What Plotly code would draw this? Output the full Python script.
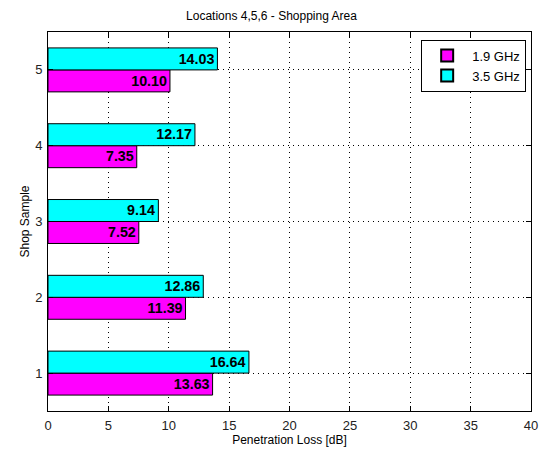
import plotly.graph_objects as go

samples = [1, 2, 3, 4, 5]
loss_19 = [13.63, 11.39, 7.52, 7.35, 10.10]
loss_35 = [16.64, 12.86, 9.14, 12.17, 14.03]
x_ticks = [0, 5, 10, 15, 20, 25, 30, 35, 40]

FONT = "Arial, Liberation Sans, Helvetica"

fig = go.Figure()
fig.add_trace(go.Bar(
    y=samples, x=loss_19, orientation="h", name="1.9 GHz",
    marker=dict(color="#ff00ff", line=dict(color="black", width=1)),
    text=[f"{v:.2f}" for v in loss_19], textposition="inside",
    insidetextanchor="end", textangle=0,
    textfont=dict(family=FONT, size=17, color="black", weight="bold"),
))
fig.add_trace(go.Bar(
    y=samples, x=loss_35, orientation="h", name="3.5 GHz",
    marker=dict(color="#00ffff", line=dict(color="black", width=1)),
    text=[f"{v:.2f}" for v in loss_35], textposition="inside",
    insidetextanchor="end", textangle=0,
    textfont=dict(family=FONT, size=17, color="black", weight="bold"),
))

axis_common = dict(
    showline=True, linecolor="black", linewidth=1, mirror="ticks",
    ticks="inside", ticklen=5, tickcolor="black",
    showgrid=True, gridcolor="black", griddash="1px,4px", gridwidth=1,
    zeroline=False, automargin=False,
    tickfont=dict(family=FONT, size=13, color="#222"),
)

fig.update_layout(
    width=543, height=453,
    margin=dict(l=48, r=12, t=32, b=42),
    paper_bgcolor="white", plot_bgcolor="white",
    barmode="group", bargap=0.42, bargroupgap=0,
    uniformtext=dict(minsize=8, mode="show"),
    title=dict(text="Locations 4,5,6 - Shopping Area", x=0.5, xanchor="center",
               y=1 - 16 / 453, yanchor="middle",
               font=dict(family=FONT, size=12, color="black")),
    xaxis=dict(range=[0, 40], tickvals=x_ticks, ticklabelstandoff=2,
               title=dict(text="Penetration Loss [dB]", standoff=2,
                          font=dict(family=FONT, size=12, color="black")), **axis_common),
    yaxis=dict(range=[0.5, 5.5], tickvals=samples, ticklabelstandoff=2,
               title=dict(text="Shop Sample", standoff=2,
                          font=dict(family=FONT, size=12, color="black")), **axis_common),
    legend=dict(x=0.99, y=0.98, xanchor="right", yanchor="top",
                bgcolor="white", bordercolor="black", borderwidth=1,
                font=dict(family=FONT, size=13, color="black"),
                itemsizing="constant", itemwidth=40, tracegroupgap=0),
    showlegend=True,
)

fig.write_html("out.html", config={"displayModeBar": False},
               post_script="document.body.style.margin='0';document.body.style.overflow='hidden';")
